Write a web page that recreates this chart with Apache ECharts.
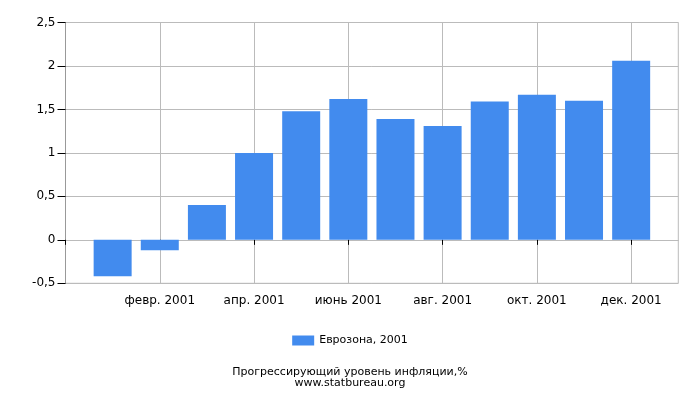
<!DOCTYPE html>
<html>
<head>
<meta charset="utf-8">
<script src="https://cdn.jsdelivr.net/npm/echarts@6/dist/echarts.min.js"></script>
<style>html,body{margin:0;padding:0;background:#fff;}#c{width:700px;height:400px;}</style>
</head>
<body>
<div id="c"></div>
<script>
const months = ['янв. 2001','февр. 2001','март 2001','апр. 2001','май 2001','июнь 2001','июль 2001','авг. 2001','сент. 2001','окт. 2001','нояб. 2001','дек. 2001'];
const values = [-0.42, -0.12, 0.40, 1.00, 1.48, 1.62, 1.39, 1.31, 1.59, 1.67, 1.60, 2.06];
const seriesName = 'Еврозона, 2001';
const titleLines = ['Прогрессирующий уровень инфляции,%', 'www.statbureau.org'];

const axisCats = [''].concat(months, ['']);
const axisData = [null].concat(values, [null]);

const chart = echarts.init(document.getElementById('c'));
chart.setOption({
  animation: false,
  textStyle: { fontFamily: 'DejaVu Sans' },
  grid: { left: 65.5, right: 21.7, top: 22.5, bottom: 116.7, show: true, borderColor: '#bbbbbb', borderWidth: 1 },
  legend: {
    data: [seriesName], bottom: 49, left: 'center', itemWidth: 22, itemHeight: 10, itemGap: 6,
    textStyle: { fontSize: 11, color: '#000', fontFamily: 'DejaVu Sans' }, icon: 'rect'
  },
  title: {
    text: titleLines.join('\n'), left: 'center', bottom: 6,
    textStyle: { fontSize: 11, fontWeight: 'normal', color: '#000', lineHeight: 11, fontFamily: 'DejaVu Sans' }
  },
  xAxis: {
    type: 'category', data: axisCats, boundaryGap: false,
    axisLine: { show: true, lineStyle: { color: '#bbbbbb' } },
    axisTick: { show: true, interval: 1, length: 5, lineStyle: { color: '#000' } },
    axisLabel: { interval: 1, color: '#000', fontSize: 12, margin: 12, fontFamily: 'DejaVu Sans' },
    splitLine: { show: true, interval: 1, lineStyle: { color: '#bbbbbb' } }
  },
  yAxis: {
    type: 'value', min: -0.5, max: 2.5, interval: 0.5,
    axisLine: { show: true, lineStyle: { color: '#999999' } },
    axisTick: { show: true, length: 8, lineStyle: { color: '#000' } },
    axisLabel: { color: '#000', fontSize: 12, margin: 10, fontFamily: 'DejaVu Sans',
      formatter: v => String(+v.toFixed(2)).replace('.', ',') },
    splitLine: { show: true, lineStyle: { color: '#bbbbbb' } }
  },
  series: [{
    name: seriesName, type: 'bar', data: axisData, barWidth: 38,
    itemStyle: { color: '#428bee' }
  }]
});
</script>
</body>
</html>
